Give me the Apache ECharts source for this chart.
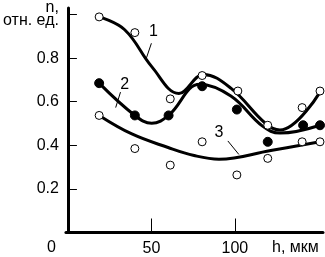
<!DOCTYPE html>
<html>
<head>
<meta charset="utf-8">
<script src="https://cdn.jsdelivr.net/npm/echarts@6/dist/echarts.min.js"></script>
<style>
  html, body { margin: 0; padding: 0; background: #fff; }
  #chart { width: 325px; height: 257px; }
</style>
</head>
<body>
<div id="chart"></div>
<script>
// измеренные точки (h, мкм ; n, отн. ед.)
const pts1 = [[18.7, 0.989], [40.1, 0.917], [61.3, 0.613], [80.4, 0.72], [101.8, 0.649], [119.7, 0.492], [140.3, 0.573], [151, 0.649]];
const pts2 = [[18.7, 0.685], [40.1, 0.537], [60.3, 0.537], [80.4, 0.671], [101.2, 0.564], [119.7, 0.416], [140.9, 0.492], [151, 0.492]];
const pts3 = [[18.7, 0.537], [40.1, 0.385], [61.3, 0.309], [80.4, 0.416], [101.2, 0.264], [119.7, 0.34], [140.3, 0.416], [151, 0.416]];

// сглаживающие кривые
const curve1 = [[18.7, 0.989], [34, 0.93], [50.2, 0.761], [66.5, 0.638], [81.2, 0.725], [97.6, 0.662], [118.4, 0.5], [127, 0.47], [151, 0.644]];
const curve2 = [[18.7, 0.685], [40.1, 0.537], [50.2, 0.501], [60.3, 0.537], [79, 0.68], [97.6, 0.626], [116.6, 0.488], [127, 0.456], [151, 0.492]];
const curve3 = [[18.7, 0.537], [38.3, 0.452], [60, 0.39], [75.6, 0.353], [90.5, 0.336], [121.5, 0.376], [151, 0.416]];

// номера кривых и выноски
const tags = ['1', '2', '3'];
const tagPos = [[51.2, 0.922], [34, 0.68], [90.5, 0.456]];
const tagLines = [[[50, 0.868], [47, 0.8]], [[31.5, 0.644], [28.6, 0.573]], [[95.8, 0.42], [102.4, 0.358]]];

const xTicks = [50, 100];
const yTicks = [0.2, 0.4, 0.6, 0.8, 1.0];
const yLabels = [0.2, 0.4, 0.6, 0.8, 1.0];

const font = 'Liberation Sans, Arial, sans-serif';
const chart = echarts.init(document.getElementById('chart'));

function curve(data, ann) {
  const s = {
    type: 'line',
    data: data,
    smooth: 0.4,
    symbol: 'none',
    lineStyle: { color: '#000', width: 3 },
    z: 2,
    silent: true
  };
  if (ann >= 0) {
    s.markLine = {
      symbol: 'none',
      silent: true,
      label: { show: false },
      lineStyle: { color: '#000', width: 1, type: 'solid' },
      data: [[{ coord: tagLines[ann][0] }, { coord: tagLines[ann][1] }]]
    };
    s.markPoint = {
      symbol: 'circle',
      symbolSize: 0,
      silent: true,
      label: { show: true, formatter: tags[ann], color: '#000', fontSize: 16, fontFamily: font, position: 'inside' },
      data: [{ coord: tagPos[ann] }]
    };
  }
  return s;
}

function points(data, filled, size) {
  return {
    type: 'scatter',
    data: data,
    symbol: 'circle',
    symbolSize: size,
    itemStyle: { color: filled ? '#000' : '#fff', borderColor: '#000', borderWidth: 1, opacity: 1 },
    z: 5,
    silent: true
  };
}

chart.setOption({
  animation: false,
  grid: { left: 63.5, right: 2, top: 2, bottom: 24.5, containLabel: false },
  xAxis: {
    type: 'value',
    min: -1.2,
    max: 152.8,
    axisLine: { lineStyle: { color: '#000', width: 3 } },
    axisTick: { inside: true, length: 14, lineStyle: { color: '#000', width: 1 }, customValues: xTicks },
    axisLabel: { color: '#000', fontSize: 16, fontFamily: font, margin: 8, customValues: xTicks },
    splitLine: { show: false }
  },
  yAxis: {
    type: 'value',
    min: 0,
    max: 1.03,
    axisLine: { show: true, lineStyle: { color: '#000', width: 3 } },
    axisTick: { show: true, inside: true, length: 9, lineStyle: { color: '#000', width: 1 }, customValues: yTicks },
    axisLabel: {
      color: '#000', fontSize: 16, fontFamily: font, margin: 7, customValues: yLabels, align: 'right',
      formatter: function (v) { return v >= 0.99 ? 'n,\nотн. ед.' : v.toFixed(1); },
      lineHeight: 13
    },
    splitLine: { show: false }
  },
  graphic: [
    { type: 'text', left: 47, top: 240, style: { text: '0', fill: '#000', font: '16px ' + font } },
    { type: 'text', left: 272, top: 240, style: { text: 'h, мкм', fill: '#000', font: '16px ' + font } }
  ],
  series: [
    curve(curve1, 0),
    curve(curve2, 1),
    curve(curve3, 2),
    points(pts1, false, 8),
    points(pts2, true, 9),
    points(pts3, false, 8)
  ]
});
</script>
</body>
</html>
